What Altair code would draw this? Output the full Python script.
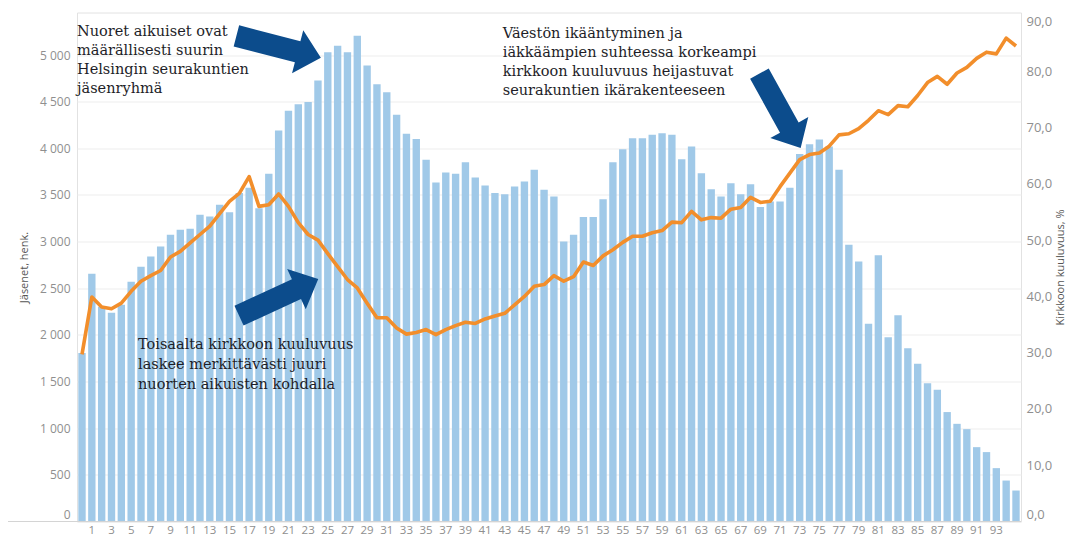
import altair as alt
import pandas as pd

# ---- data ----
ages = list(range(96))
members = [1805, 2655, 2301, 2237, 2323, 2569, 2730, 2840, 2947, 3073,
           3126, 3137, 3287, 3269, 3394, 3316, 3520, 3577, 3359, 3727,
           4191, 4404, 4472, 4496, 4726, 5031, 5099, 5031, 5206, 4887,
           4688, 4602, 4359, 4155, 4099, 3877, 3633, 3741, 3727, 3852,
           3687, 3601, 3520, 3509, 3591, 3644, 3770, 3555, 3483, 3001,
           3073, 3263, 3263, 3455, 3852, 3991, 4109, 4109, 4145, 4163,
           4145, 3884, 4019, 3732, 3561, 3483, 3625, 3509, 3614, 3370,
           3430, 3430, 3577, 3938, 4045, 4096, 4019, 3770, 2966, 2787,
           2119, 2853, 1976, 2212, 1858, 1690, 1483, 1412, 1173, 1047,
           990, 797, 744, 572, 439, 332]
share = [29.7, 39.9, 38.1, 37.8, 38.8, 40.9, 42.7, 43.7, 44.6, 47.0,
         48.0, 49.5, 51.0, 52.5, 54.7, 56.9, 58.3, 61.3, 56.0, 56.3,
         58.2, 56.0, 53.1, 51.0, 50.0, 47.6, 45.3, 43.0, 41.5, 38.8,
         36.2, 36.2, 34.4, 33.3, 33.6, 34.1, 33.2, 34.1, 34.8, 35.4,
         35.2, 36.0, 36.5, 37.0, 38.5, 40.0, 41.8, 42.1, 43.7, 42.7,
         43.5, 46.1, 45.5, 47.2, 48.3, 49.6, 50.7, 50.7, 51.3, 51.7,
         53.2, 53.1, 55.1, 53.6, 54.0, 53.9, 55.5, 55.8, 57.6, 56.7,
         56.9, 59.5, 61.9, 64.3, 65.2, 65.5, 66.7, 68.7, 68.9, 69.8,
         71.3, 73.0, 72.3, 73.9, 73.7, 75.7, 78.0, 79.1, 77.7, 79.7,
         80.7, 82.3, 83.4, 83.1, 85.9, 84.5]
x_tick_labels = list(range(1, 94, 2))
left_ticks = list(range(0, 5001, 500))
right_ticks = list(range(0, 91, 10))

note1_lines = ["Nuoret aikuiset ovat", "määrällisesti suurin",
               "Helsingin seurakuntien", "jäsenryhmä"]
note1_age = 0
note1_level = [5200, 4997, 4793, 4590]
note2_lines = ["Toisaalta kirkkoon kuuluvuus", "laskee merkittävästi juuri",
               "nuorten aikuisten kohdalla"]
note2_age = 6
note2_level = [1848, 1631, 1417]
note3_lines = ["Väestön ikääntyminen ja", "iäkkäämpien suhteessa korkeampi",
               "kirkkoon kuuluvuus heijastuvat", "seurakuntien ikärakenteeseen"]
note3_age = 43
note3_level = [5179, 4975, 4772, 4568]

arrow_age = [20, 20, 71]
arrow_level = [5088, 2403, 4402]
arrow_angle = [14.6, 335.3, 61.0]
arrow_size = [7620, 7600, 7240]

df = pd.DataFrame({"age": ages, "members": members, "share": share})

W, H = 944, 509
LEFT_MAX = 5456
RIGHT_MAX = 90.45
BAR = "#a0c9e8"
ORANGE = "#f28e2b"
NAVY = "#0c4c8c"
TXT = "#1e1e28"
GRAY = "#8f8f8f"


def x_enc():
    # identical x definition in every layer so the shared axis merges cleanly
    return alt.X("age:O",
                 scale=alt.Scale(domain=ages, paddingInner=0.25, paddingOuter=0.134),
                 axis=alt.Axis(values=x_tick_labels, labelAngle=0, ticks=False, tickSize=0,
                               grid=False, domain=False, labelColor=GRAY,
                               labelFontSize=11.5, labelFont="Open Sans", labelPadding=3,
                               labelBaseline="top", title=None))


def left_scale():
    return alt.Scale(domain=[0, LEFT_MAX], nice=False, zero=True)


bars = alt.Chart(df).mark_bar(color=BAR).encode(
    x=x_enc(),
    y=alt.Y("members:Q", scale=left_scale(),
            axis=alt.Axis(orient="left", values=left_ticks, grid=True, gridColor="#ededed",
                          ticks=False, tickSize=0, domain=False, labelColor=GRAY,
                          labelFontSize=12, labelFont="Open Sans", labelPadding=7,
                          labelFlush=10,
                          labelExpr="replace(format(datum.value, ','), ',', ' ')",
                          title="Jäsenet, henk.", titleFont="Open Sans", titleFontSize=11,
                          titleFontWeight="normal", titleColor="#555555", titlePadding=10)),
)


def note(lines, age, levels, dx):
    d = pd.DataFrame({"age": [age] * len(lines), "members": levels, "txt": lines})
    return alt.Chart(d).mark_text(align="left", baseline="alphabetic", dx=dx,
                                  font="DejaVu Serif", fontSize=14.5, color=TXT).encode(
        x=x_enc(),
        y=alt.Y("members:Q", scale=left_scale(), axis=None),
        text="txt:N",
    )


arrow_path = "M -1 -0.25 L 0.45 -0.25 L 0.45 -0.51 L 1 0 L 0.45 0.51 L 0.45 0.25 L -1 0.25 Z"
adf = pd.DataFrame({"age": arrow_age, "members": arrow_level,
                    "angle": arrow_angle, "size": arrow_size})
arrows = alt.Chart(adf).mark_point(shape=arrow_path, filled=True, opacity=1,
                                   color=NAVY, strokeWidth=0).encode(
    x=x_enc(),
    y=alt.Y("members:Q", scale=left_scale(), axis=None),
    angle=alt.Angle("angle:Q", scale=None),
    size=alt.Size("size:Q", scale=None),
)

line = alt.Chart(df).mark_line(color=ORANGE, strokeWidth=3.6, strokeJoin="round").encode(
    x=x_enc(),
    y=alt.Y("share:Q", scale=alt.Scale(domain=[0, RIGHT_MAX], nice=False),
            axis=alt.Axis(orient="right", values=right_ticks, grid=False, ticks=False,
                          tickSize=0, domain=False, labelColor=GRAY, labelFontSize=13,
                          labelFont="Open Sans", labelPadding=5, labelFlush=10,
                          labelExpr="replace(format(datum.value, '.1f'), '.', ',')",
                          title="Kirkkoon kuuluvuus, %", titleAngle=270, titleFont="Open Sans",
                          titleFontSize=11, titleFontWeight="normal", titleColor="#555555",
                          titleX=44)),
)

# baseline rule that runs under the y-axis labels, as in the reference
base_rule = alt.Chart(pd.DataFrame({"k": [0]})).mark_rule(color="#d4d4d4", strokeWidth=1).encode(
    x=alt.value(-70), x2=alt.value(W), y=alt.value(H)
)

chart = alt.layer(
    bars, line,
    note(note1_lines, note1_age, note1_level, -5),
    note(note2_lines, note2_age, note2_level, -3),
    note(note3_lines, note3_age, note3_level, -2),
    arrows, base_rule,
).resolve_scale(y="independent").properties(
    width=W, height=H,
    autosize=alt.AutoSizeParams(type="none"),
    padding={"left": 69, "top": 4.5, "right": 49, "bottom": 16},
).configure_view(stroke="#e2e2e2", strokeWidth=1)

chart.save("out.html", embed_options={"renderer": "svg", "actions": False})
